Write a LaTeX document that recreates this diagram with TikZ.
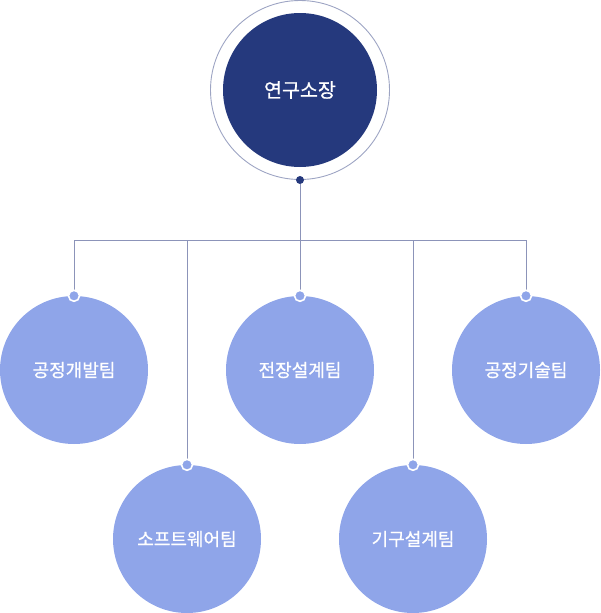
\documentclass[tikz,border=0pt]{standalone}
\usepackage{fontspec}
\setmainfont[FakeBold=0.8, AutoFakeBold=0.8]{Noto Sans CJK KR}
\definecolor{navy}{RGB}{37,57,125}
\definecolor{teamblue}{RGB}{143,165,233}
\definecolor{linegray}{RGB}{140,148,185}

\begin{document}
\begin{tikzpicture}[x=1pt, y=-1pt,
        team/.style={circle, fill=teamblue, minimum size=148pt, inner sep=0pt, text=white, font=\fontsize{18}{21}\selectfont},
        knob/.style={circle, fill=teamblue, draw=white, line width=1.6pt, minimum size=11pt, inner sep=0pt},
        wire/.style={draw=linegray, line width=0.9pt}]
        \useasboundingbox (0, 0) rectangle (600, 613);

        % head of the lab
        \node[circle, draw=linegray!85, line width=0.9pt, minimum size=179pt, inner sep=0pt] (ring) at (300, 90) {};
        \node[circle, fill=navy, minimum size=154pt, inner sep=0pt, text=white, font=\fontsize{19.5}{22}\selectfont] (head) at (300, 90) {연구소장};
        \node[circle, fill=navy, minimum size=8pt, inner sep=0pt] (hdot) at (300, 180) {};

        \coordinate (hub) at (300, 240);
        \coordinate (bl) at (74, 240);
        \coordinate (br) at (526, 240);
        \draw[wire] (hdot) -- (hub);
        \draw[wire] (bl) -- (br);

        % teams
        \node[team] (dev) at (74, 370) {공정개발팀};
        \node[team] (plant) at (300, 370) {전장설계팀};
        \node[team] (tech) at (526, 370) {공정기술팀};
        \node[team] (soft) at (187, 539) {소프트웨어팀};
        \node[team] (mech) at (413, 539) {기구설계팀};

        \foreach \t/\x in {dev/74, plant/300, tech/526, soft/187, mech/413} {
            \draw[wire] (\x, 240) -- (\t.north);
            \node[knob] at (\t.north) {};
        }

    \end{tikzpicture}
\end{document}
